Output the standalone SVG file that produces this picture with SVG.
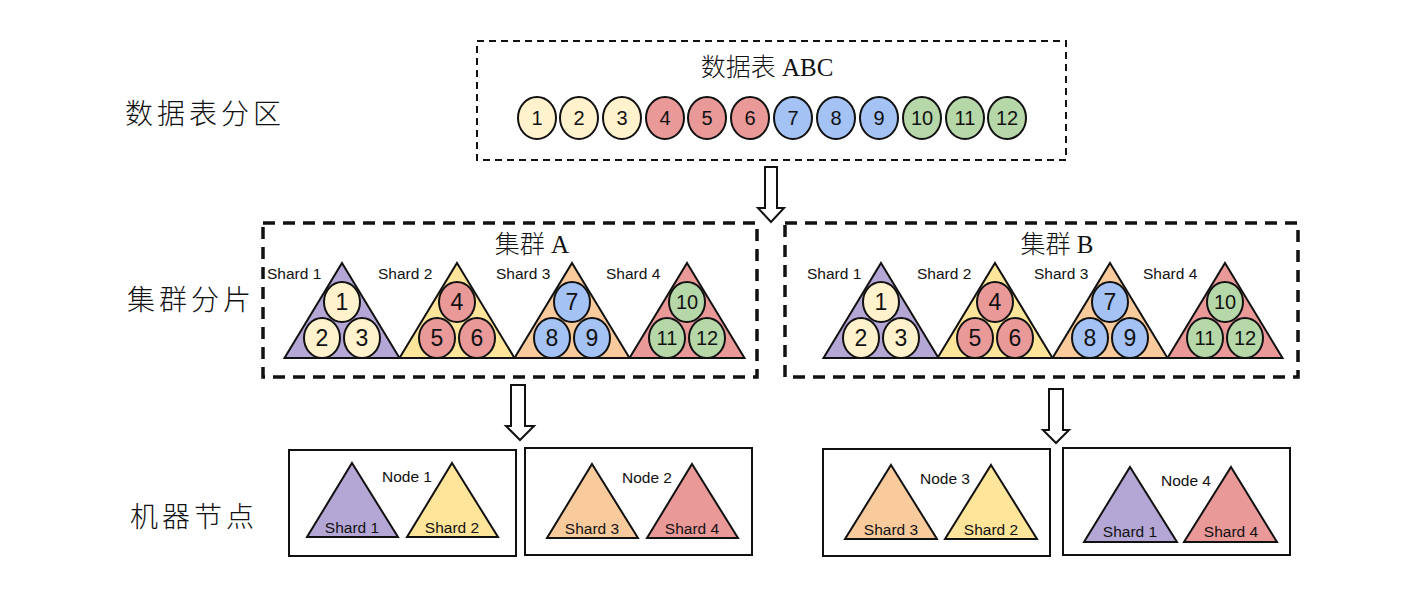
<svg xmlns="http://www.w3.org/2000/svg" width="1423" height="592" viewBox="0 0 1423 592">
<defs>
<style>
.cjk{font-family:"Liberation Serif","Noto Sans CJK SC",serif;fill:#111;font-weight:300}
.lbl{font-family:"Liberation Sans",Arial,sans-serif;fill:#111}
.num{font-family:"Liberation Sans",Arial,sans-serif;fill:#111;text-anchor:middle}
.tri{stroke:#111;stroke-width:2;stroke-linejoin:miter}
.c{stroke:#111;stroke-width:2}
.pu{fill:#b4a7d6}.ye{fill:#ffe599}.or{fill:#f9cb9c}.re{fill:#ea9999}
.bl{fill:#a4c2f4}.gr{fill:#b6d7a8}.ly{fill:#fff2cc}
.box{fill:none;stroke:#111;stroke-width:2}
.arrow{fill:#fff;stroke:#111;stroke-width:2;stroke-linejoin:miter}
</style>
</defs>
<rect width="1423" height="592" fill="#fff"/>

<g id="row-labels">
<text class="cjk" x="125" y="124" font-size="28" letter-spacing="4">数据表分区</text>
<text class="cjk" x="127" y="310" font-size="28" letter-spacing="4">集群分片</text>
<text class="cjk" x="130" y="527" font-size="28" letter-spacing="4">机器节点</text>
</g>

<g id="table-abc">
<rect x="477" y="41" width="589" height="119" fill="none" stroke="#111" stroke-width="2" stroke-dasharray="7 5"/>
<text class="cjk" x="767" y="76" font-size="25" text-anchor="middle">数据表 ABC</text>
<g font-size="20">
<ellipse class="c ly" cx="537" cy="118" rx="19" ry="21"/><text class="num" x="537" y="125">1</text>
<ellipse class="c ly" cx="579" cy="118" rx="19" ry="21"/><text class="num" x="579" y="125">2</text>
<ellipse class="c ly" cx="622" cy="118" rx="19" ry="21"/><text class="num" x="622" y="125">3</text>
<ellipse class="c re" cx="665" cy="118" rx="19" ry="21"/><text class="num" x="665" y="125">4</text>
<ellipse class="c re" cx="707" cy="118" rx="19" ry="21"/><text class="num" x="707" y="125">5</text>
<ellipse class="c re" cx="750" cy="118" rx="19" ry="21"/><text class="num" x="750" y="125">6</text>
<ellipse class="c bl" cx="793" cy="118" rx="19" ry="21"/><text class="num" x="793" y="125">7</text>
<ellipse class="c bl" cx="836" cy="118" rx="19" ry="21"/><text class="num" x="836" y="125">8</text>
<ellipse class="c bl" cx="879" cy="118" rx="19" ry="21"/><text class="num" x="879" y="125">9</text>
<ellipse class="c gr" cx="922" cy="118" rx="19" ry="21"/><text class="num" x="922" y="125">10</text>
<ellipse class="c gr" cx="965" cy="118" rx="19" ry="21"/><text class="num" x="965" y="125">11</text>
<ellipse class="c gr" cx="1007" cy="118" rx="19" ry="21"/><text class="num" x="1007" y="125">12</text>
</g>
</g>

<g id="cluster-a">
<rect x="263" y="223" width="494" height="154" fill="none" stroke="#111" stroke-width="3.5" stroke-dasharray="12 8"/>
<text class="cjk" x="532" y="253" font-size="25" text-anchor="middle">集群 A</text>
<g font-size="15.5">
<text class="lbl" x="267" y="279">Shard 1</text>
<text class="lbl" x="378" y="279">Shard 2</text>
<text class="lbl" x="496" y="279">Shard 3</text>
<text class="lbl" x="606" y="279">Shard 4</text>
</g>
<polygon class="tri pu" points="342,263 399.5,358 284.5,358"/>
<polygon class="tri ye" points="457,263 514.5,358 399.5,358"/>
<polygon class="tri or" points="572,263 629.5,358 514.5,358"/>
<polygon class="tri re" points="687,263 744.5,358 629.5,358"/>
<g font-size="23">
<ellipse class="c ly" cx="342" cy="302" rx="18" ry="20"/><text class="num" x="342" y="310">1</text>
<ellipse class="c ly" cx="322" cy="338" rx="18" ry="20"/><text class="num" x="322" y="346">2</text>
<ellipse class="c ly" cx="362" cy="338" rx="18" ry="20"/><text class="num" x="362" y="346">3</text>
<ellipse class="c re" cx="457" cy="302" rx="18" ry="20"/><text class="num" x="457" y="310">4</text>
<ellipse class="c re" cx="437" cy="338" rx="18" ry="20"/><text class="num" x="437" y="346">5</text>
<ellipse class="c re" cx="477" cy="338" rx="18" ry="20"/><text class="num" x="477" y="346">6</text>
<ellipse class="c bl" cx="572" cy="302" rx="18" ry="20"/><text class="num" x="572" y="310">7</text>
<ellipse class="c bl" cx="552" cy="338" rx="18" ry="20"/><text class="num" x="552" y="346">8</text>
<ellipse class="c bl" cx="592" cy="338" rx="18" ry="20"/><text class="num" x="592" y="346">9</text>
<ellipse class="c gr" cx="687" cy="302" rx="18" ry="20"/><text class="num" x="687" y="309" font-size="20">10</text>
<ellipse class="c gr" cx="667" cy="338" rx="18" ry="20"/><text class="num" x="667" y="345" font-size="20">11</text>
<ellipse class="c gr" cx="707" cy="338" rx="18" ry="20"/><text class="num" x="707" y="345" font-size="20">12</text>
</g>
</g>

<g id="cluster-b">
<rect x="785" y="223" width="513" height="154" fill="none" stroke="#111" stroke-width="3.5" stroke-dasharray="12 8"/>
<text class="cjk" x="1057" y="253" font-size="25" text-anchor="middle">集群 B</text>
<g font-size="15.5">
<text class="lbl" x="807" y="279">Shard 1</text>
<text class="lbl" x="917" y="279">Shard 2</text>
<text class="lbl" x="1034" y="279">Shard 3</text>
<text class="lbl" x="1143" y="279">Shard 4</text>
</g>
<polygon class="tri pu" points="881,263 938.5,358 823.5,358"/>
<polygon class="tri ye" points="995,263 1052.5,358 937.5,358"/>
<polygon class="tri or" points="1110,263 1167.5,358 1052.5,358"/>
<polygon class="tri re" points="1225,263 1282.5,358 1167.5,358"/>
<g font-size="23">
<ellipse class="c ly" cx="881" cy="302" rx="18" ry="20"/><text class="num" x="881" y="310">1</text>
<ellipse class="c ly" cx="861" cy="338" rx="18" ry="20"/><text class="num" x="861" y="346">2</text>
<ellipse class="c ly" cx="901" cy="338" rx="18" ry="20"/><text class="num" x="901" y="346">3</text>
<ellipse class="c re" cx="995" cy="302" rx="18" ry="20"/><text class="num" x="995" y="310">4</text>
<ellipse class="c re" cx="975" cy="338" rx="18" ry="20"/><text class="num" x="975" y="346">5</text>
<ellipse class="c re" cx="1015" cy="338" rx="18" ry="20"/><text class="num" x="1015" y="346">6</text>
<ellipse class="c bl" cx="1110" cy="302" rx="18" ry="20"/><text class="num" x="1110" y="310">7</text>
<ellipse class="c bl" cx="1090" cy="338" rx="18" ry="20"/><text class="num" x="1090" y="346">8</text>
<ellipse class="c bl" cx="1130" cy="338" rx="18" ry="20"/><text class="num" x="1130" y="346">9</text>
<ellipse class="c gr" cx="1225" cy="302" rx="18" ry="20"/><text class="num" x="1225" y="309" font-size="20">10</text>
<ellipse class="c gr" cx="1205" cy="338" rx="18" ry="20"/><text class="num" x="1205" y="345" font-size="20">11</text>
<ellipse class="c gr" cx="1245" cy="338" rx="18" ry="20"/><text class="num" x="1245" y="345" font-size="20">12</text>
</g>
</g>

<g id="node-1">
<rect class="box" x="289" y="450" width="227" height="106"/>
<polygon class="tri pu" points="352,463 398,537 307,537"/>
<polygon class="tri ye" points="452,463 498,537 407,537"/>
<text class="lbl" x="407" y="482" font-size="15.5" text-anchor="middle">Node 1</text>
<text class="lbl" x="352" y="533" font-size="15.5" text-anchor="middle">Shard 1</text>
<text class="lbl" x="452" y="533" font-size="15.5" text-anchor="middle">Shard 2</text>
</g>
<g id="node-2">
<rect class="box" x="525" y="448" width="227" height="107"/>
<polygon class="tri or" points="592,464 638,538 547,538"/>
<polygon class="tri re" points="692,464 738,538 647,538"/>
<text class="lbl" x="647" y="483" font-size="15.5" text-anchor="middle">Node 2</text>
<text class="lbl" x="592" y="534" font-size="15.5" text-anchor="middle">Shard 3</text>
<text class="lbl" x="692" y="534" font-size="15.5" text-anchor="middle">Shard 4</text>
</g>
<g id="node-3">
<rect class="box" x="823" y="449" width="227" height="107"/>
<polygon class="tri or" points="891,465 937,539 845,539"/>
<polygon class="tri ye" points="991,465 1037,539 945,539"/>
<text class="lbl" x="945" y="484" font-size="15.5" text-anchor="middle">Node 3</text>
<text class="lbl" x="891" y="535" font-size="15.5" text-anchor="middle">Shard 3</text>
<text class="lbl" x="991" y="535" font-size="15.5" text-anchor="middle">Shard 2</text>
</g>
<g id="node-4">
<rect class="box" x="1063" y="448" width="227" height="107"/>
<polygon class="tri pu" points="1130,467 1177,542 1084,542"/>
<polygon class="tri re" points="1231,467 1277,542 1184,542"/>
<text class="lbl" x="1186" y="486" font-size="15.5" text-anchor="middle">Node 4</text>
<text class="lbl" x="1130" y="537" font-size="15.5" text-anchor="middle">Shard 1</text>
<text class="lbl" x="1231" y="537" font-size="15.5" text-anchor="middle">Shard 4</text>
</g>

<g id="connectors">
<polygon class="arrow" points="765,167 777,167 777,208 784,208 771,222 758,208 765,208"/>
<polygon class="arrow" points="511,385 525,385 525,426 534,426 520,440 506,426 511,426"/>
<polygon class="arrow" points="1049,389 1063,389 1063,430 1069,430 1056,443 1043,430 1049,430"/>
</g>
</svg>
